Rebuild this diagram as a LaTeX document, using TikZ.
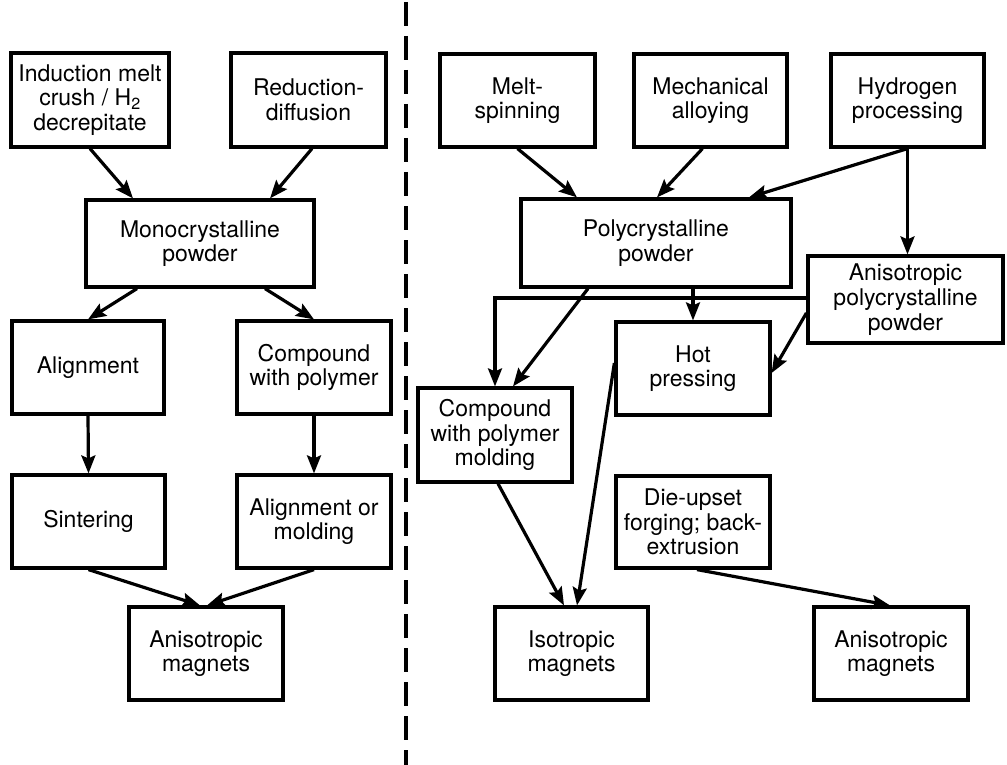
\documentclass[tikz,border=0pt]{standalone}
\usepackage{fontspec}
\setmainfont{TeX Gyre Heros}
\usetikzlibrary{arrows.meta}
\begin{document}
\begin{tikzpicture}[x=1pt,y=-1pt,
  box/.style={draw,line width=3.2pt,align=center,inner sep=0pt,
    font=\fontsize{23}{24.7}\selectfont},
  arr/.style={line width=3.2pt,-{Stealth[length=18pt,width=14pt,inset=3pt]}},
  ln/.style={line width=3.2pt}]
\useasboundingbox (0,0) rectangle (1007,765);
% dashed divider
\coordinate (dtop) at (406,2);
\coordinate (dbot) at (406,765);
\draw[line width=3.4pt,dash pattern=on 24pt off 10pt] (dtop) -- (dbot);
% left side
\node[box,minimum width=158pt,minimum height=94pt] (ind) at (90,100) {Induction melt\\crush / H\textsubscript{2}\\decrepitate};
\node[box,minimum width=155pt,minimum height=94pt] (red) at (308.5,100) {Reduction-\\diffusion};
\node[box,minimum width=228pt,minimum height=87pt] (mono) at (200,243.5) {Monocrystalline\\powder};
\node[box,minimum width=152pt,minimum height=93pt] (align) at (88,367.5) {Alignment};
\node[box,minimum width=154pt,minimum height=93pt] (comp) at (314,367.5) {Compound\\with polymer};
\node[box,minimum width=153pt,minimum height=93pt] (sint) at (88.5,521.5) {Sintering};
\node[box,minimum width=154pt,minimum height=93pt] (alm) at (314,521.5) {Alignment or\\molding};
\node[box,minimum width=154pt,minimum height=93pt] (anL) at (206,653.5) {Anisotropic\\magnets};
% right side
\node[box,minimum width=155pt,minimum height=93pt] (melt) at (517.5,100.5) {Melt-\\spinning};
\node[box,minimum width=153pt,minimum height=93pt] (mech) at (710.5,100.5) {Mechanical\\alloying};
\node[box,minimum width=153pt,minimum height=93pt] (hydr) at (907.5,100.5) {Hydrogen\\processing};
\node[box,minimum width=270pt,minimum height=88pt] (poly) at (656,243) {Polycrystalline\\powder};
\node[box,minimum width=195pt,minimum height=87pt] (aniso) at (905.5,299.5) {Anisotropic\\polycrystalline\\powder};
\node[box,minimum width=154pt,minimum height=93pt] (hot) at (693,368.5) {Hot\\pressing};
\node[box,minimum width=154pt,minimum height=94pt] (cwp) at (495,435) {Compound\\with polymer\\molding};
\node[box,minimum width=154pt,minimum height=92pt] (die) at (693,522) {Die-upset\\forging; back-\\extrusion};
\node[box,minimum width=153pt,minimum height=93pt] (iso) at (571.5,653.5) {Isotropic\\magnets};
\node[box,minimum width=154pt,minimum height=93pt] (anR) at (891,653.5) {Anisotropic\\magnets};
% left connectors
\draw[arr] (ind.south) -- ([xshift=-67pt]mono.north);
\draw[arr] ([xshift=3.5pt]red.south) -- ([xshift=70pt]mono.north);
\draw[arr] ([xshift=-63pt]mono.south) -- (align.north);
\draw[arr] ([xshift=65pt]mono.south) -- (comp.north);
\draw[arr] (align.south) -- (sint.north);
\draw[arr] (comp.south) -- (alm.north);
\draw[arr] (sint.south) -- ([xshift=-6pt]anL.north);
\draw[arr] (alm.south) -- ([xshift=1pt]anL.north);
% right connectors
\draw[arr] (melt.south) -- ([xshift=-79pt]poly.north);
\draw[arr] ([xshift=-8pt]mech.south) -- ([xshift=1pt]poly.north);
\draw[arr] (hydr.south) -- ([xshift=93pt]poly.north);
\draw[arr] (hydr.south) -- (hydr.south |- aniso.north);
\draw[arr] ([yshift=1.5pt]aniso.west) -| (cwp.north);
\draw[arr] (hot.north |- poly.south) -- (hot.north);
\draw[arr] ([xshift=-68pt]poly.south) -- ([xshift=18pt]cwp.north);
\draw[arr] ([yshift=-13.5pt]aniso.west) -- ([yshift=-4.5pt]hot.east);
\draw[arr] ([yshift=5.5pt]hot.west) -- ([xshift=5.5pt]iso.north);
\draw[arr] ([xshift=3pt]cwp.south) -- ([xshift=-7.5pt]iso.north);
\draw[arr] ([xshift=4pt]die.south) -- ([xshift=-1pt]anR.north);
\end{tikzpicture}
\end{document}
